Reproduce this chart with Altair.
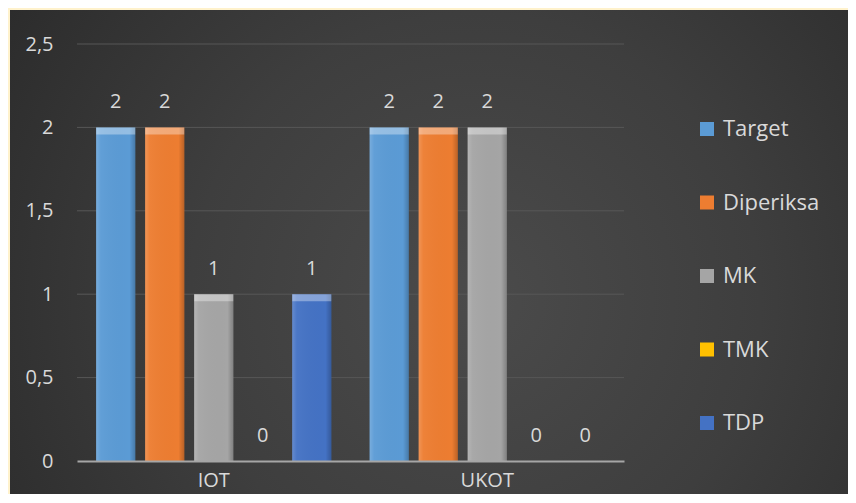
import altair as alt
import pandas as pd

categories = ["IOT", "UKOT"]
series = ["Target", "Diperiksa", "MK", "TMK", "TDP"]
values_iot = [2, 2, 1, 0, 1]
values_ukot = [2, 2, 2, 0, 0]
colors = ["#5B9BD5", "#ED7D31", "#A5A5A5", "#FFC000", "#4472C4"]
y_ticks = [0, 0.5, 1, 1.5, 2, 2.5]

rows = []
for cat, vals in zip(categories, [values_iot, values_ukot]):
    for s, v in zip(series, vals):
        rows.append({"cat": cat, "series": s, "value": v})
df = pd.DataFrame(rows)
grid_df = pd.DataFrame({"tick": y_ticks[1:]})

FONT = "Open Sans"
TXT = "#d9d9d9"
W, H = 547, 417

yscale = alt.Scale(domain=[0, 2.5], nice=False, zero=True)
y_axis = alt.Axis(title=None, values=y_ticks,
                  labelExpr="replace(format(datum.value, '.1~f'), '.', ',')",
                  ticks=False, domain=False, grid=False,
                  labelFontSize=20, labelColor=TXT, labelFont=FONT,
                  labelPadding=24, zindex=1)

x_enc = alt.X("cat:N", sort=categories,
              scale=alt.Scale(paddingInner=0, paddingOuter=0),
              axis=alt.Axis(title=None, labelAngle=0, ticks=False, grid=False,
                            domainColor="#a6a6a6", domainWidth=2,
                            labelFontSize=20, labelColor=TXT, labelFont=FONT,
                            labelPadding=9, zindex=1))
xo_enc = alt.XOffset("series:N", sort=series,
                     scale=alt.Scale(paddingInner=0.2, paddingOuter=0.39))

bg = alt.Chart(pd.DataFrame({"k": [0]})).mark_rect(
    fill={
        "gradient": "radial",
        "x1": 0.55, "y1": 0.55, "r1": 0,
        "x2": 0.55, "y2": 0.55, "r2": 0.75,
        "stops": [
            {"offset": 0, "color": "#4b4b4b"},
            {"offset": 0.45, "color": "#3e3e3e"},
            {"offset": 1, "color": "#262626"},
        ],
    }
).encode(x=alt.value(-67), x2=alt.value(779), y=alt.value(-34), y2=alt.value(459))

grid = alt.Chart(grid_df).mark_rule(color="#575757", strokeWidth=1).encode(
    y=alt.Y("tick:Q", scale=yscale, axis=y_axis)
)

base = alt.Chart(df)

bars = base.mark_bar().encode(
    x=x_enc, xOffset=xo_enc, y=alt.Y("value:Q", scale=yscale, axis=y_axis),
    color=alt.Color("series:N", sort=series,
                    scale=alt.Scale(domain=series, range=colors),
                    legend=alt.Legend(title=None, orient="none", legendX=619, legendY=74,
                                      symbolType="square", symbolSize=196,
                                      symbolStrokeWidth=0, symbolOpacity=1,
                                      labelFontSize=22, labelColor=TXT, labelFont=FONT,
                                      labelOffset=5, rowPadding=51.5, zindex=1)),
)

shade = base.transform_filter("datum.value > 0").mark_bar(
    fill={
        "gradient": "linear", "x1": 0, "y1": 0, "x2": 1, "y2": 0,
        "stops": [
            {"offset": 0, "color": "rgba(255,255,255,0.18)"},
            {"offset": 0.12, "color": "rgba(255,255,255,0.04)"},
            {"offset": 0.85, "color": "rgba(0,0,0,0.0)"},
            {"offset": 1, "color": "rgba(0,0,0,0.22)"},
        ],
    }
).encode(x=alt.X("cat:N", sort=categories), xOffset=alt.XOffset("series:N", sort=series),
         y=alt.Y("value:Q", scale=yscale))

cap = base.transform_filter("datum.value > 0").mark_tick(
    color="white", opacity=0.35, thickness=7, size=39, yOffset=3.5
).encode(x=alt.X("cat:N", sort=categories), xOffset=alt.XOffset("series:N", sort=series),
         y=alt.Y("value:Q", scale=yscale))

labels = base.mark_text(dy=-25, fontSize=20, color=TXT, font=FONT, baseline="middle").encode(
    x=alt.X("cat:N", sort=categories), xOffset=alt.XOffset("series:N", sort=series),
    y=alt.Y("value:Q", scale=yscale), text=alt.Text("value:Q")
)

chart = alt.layer(bg, grid, bars, shade, cap, labels).properties(
    width=W, height=H,
    background="#FFF2CC",
    padding={"left": 69, "top": 36, "right": 224, "bottom": 33},
    autosize=alt.AutoSizeParams(type="none"),
).configure_view(stroke=None)

chart.save("out.html", embed_options={"renderer": "svg", "actions": False})
